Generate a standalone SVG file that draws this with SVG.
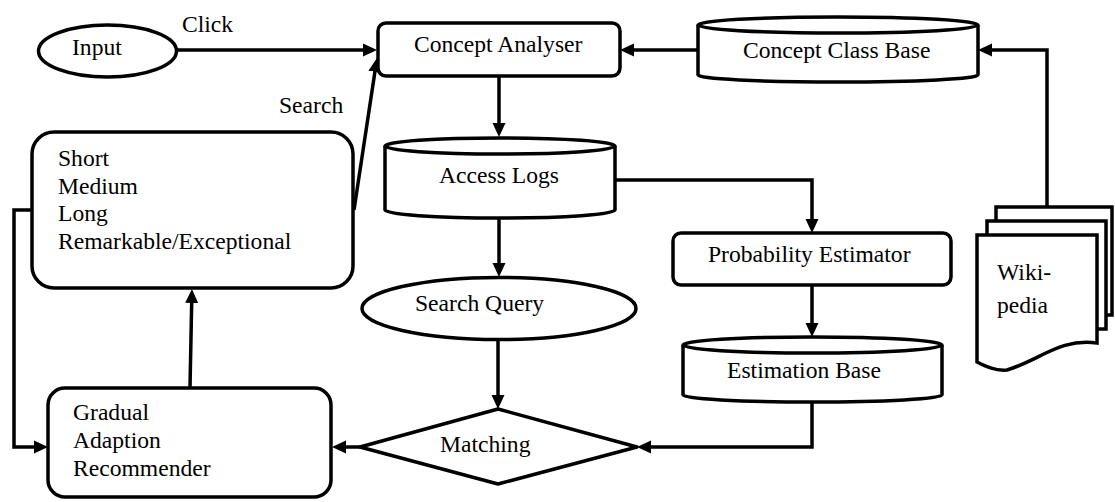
<svg xmlns="http://www.w3.org/2000/svg" width="1115" height="502" viewBox="0 0 1115 502">
  <style>
    .shape { fill: #ffffff; stroke: #000000; stroke-width: 3.5; stroke-linejoin: round; }
    .page { fill: #ffffff; stroke: #000000; stroke-width: 3.5; stroke-linejoin: miter; }
    .link { fill: none; stroke: #000000; stroke-width: 3.5; marker-end: url(#arrow); }
    .label { font-family: "Times New Roman", "Liberation Serif", "Noto Serif", "DejaVu Serif", serif; font-size: 23.6px; fill: #000000; }
  </style>
  <defs>
    <marker id="arrow" markerUnits="userSpaceOnUse" markerWidth="16" markerHeight="14" refX="6" refY="7" orient="auto">
      <path d="M0,0.5 L14,7 L0,13.5 z" fill="#000000"/>
    </marker>
  </defs>

  <rect width="1115" height="502" fill="#ffffff"/>

  <!-- connectors -->
  <g id="connectors">
    <path class="link" d="M177,50 H369"/>
    <path class="link" d="M354,210 L375.8,65.9"/>
    <path class="link" d="M698,50 H628"/>
    <path class="link" d="M1047,207 V50 H986"/>
    <path class="link" d="M499,76 V129"/>
    <path class="link" d="M615,180 H812 V225"/>
    <path class="link" d="M499,218 V269"/>
    <path class="link" d="M812,285 V329"/>
    <path class="link" d="M498,340 V401"/>
    <path class="link" d="M812,402 V447 H645"/>
    <path class="link" d="M360,447 H340"/>
    <path class="link" d="M190,388 L191.8,297"/>
    <path class="link" d="M32,210 H14 V447 H40"/>
  </g>

  <!-- labels on connectors -->
  <g id="edge-labels" class="label">
    <text x="182" y="32">Click</text>
    <text x="279" y="113">Search</text>
  </g>

  <g id="input">
    <ellipse class="shape" cx="107.5" cy="51" rx="69" ry="26"/>
    <text class="label" x="72" y="55">Input</text>
  </g>

  <g id="concept-analyser">
    <rect class="shape" x="378" y="23" width="242" height="53" rx="8"/>
    <text class="label" x="414" y="52">Concept Analyser</text>
  </g>

  <g id="concept-class-base">
    <path class="shape" d="M698,25 V75 A140,7 0 0 0 978,75 V25"/>
    <ellipse class="shape" cx="838" cy="25" rx="140" ry="8"/>
    <text class="label" x="743" y="58">Concept Class Base</text>
  </g>

  <g id="access-logs">
    <path class="shape" d="M385,146 V210 A115,8 0 0 0 615,210 V146"/>
    <ellipse class="shape" cx="500" cy="146" rx="115" ry="8"/>
    <text class="label" x="439" y="183">Access Logs</text>
  </g>

  <g id="duration-classes">
    <rect class="shape" x="32" y="132" width="321" height="156" rx="22"/>
    <g class="label">
      <text x="58" y="166">Short</text>
      <text x="58" y="194">Medium</text>
      <text x="58" y="221">Long</text>
      <text x="58" y="249">Remarkable/Exceptional</text>
    </g>
  </g>

  <g id="probability-estimator">
    <rect class="shape" x="673" y="233" width="278" height="52" rx="8"/>
    <text class="label" x="708" y="262">Probability Estimator</text>
  </g>

  <g id="search-query">
    <ellipse class="shape" cx="499" cy="308.5" rx="137" ry="31"/>
    <text class="label" x="415" y="311">Search Query</text>
  </g>

  <g id="estimation-base">
    <path class="shape" d="M683,345 V395 A129.5,7 0 0 0 942,395 V345"/>
    <ellipse class="shape" cx="812.5" cy="345" rx="129.5" ry="8"/>
    <text class="label" x="727" y="378">Estimation Base</text>
  </g>

  <g id="matching">
    <polygon class="shape" points="360,447 498,409 637,447 498,484"/>
    <text class="label" x="440" y="452">Matching</text>
  </g>

  <g id="recommender">
    <rect class="shape" x="48" y="388" width="283" height="109" rx="17"/>
    <g class="label">
      <text x="73" y="420">Gradual</text>
      <text x="73" y="448">Adaption</text>
      <text x="73" y="476">Recommender</text>
    </g>
  </g>

  <g id="wikipedia">
    <path class="page" d="M996,221 V207 H1112 V315 H1106"/>
    <path class="page" d="M987,235 V221 H1106 V329 H1097"/>
    <path class="page" d="M977,235 H1097 V343 C1060,338 1040,360 1007,370 C995,371 985,366 977,362 Z"/>
    <g class="label">
      <text x="997" y="280">Wiki-</text>
      <text x="997" y="313">pedia</text>
    </g>
  </g>
</svg>
